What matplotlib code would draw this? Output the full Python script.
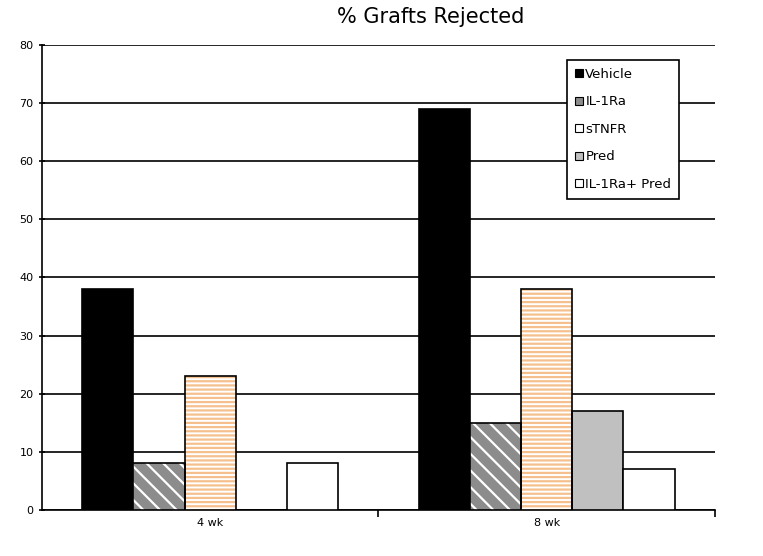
import numpy as np
import matplotlib.pyplot as plt
from matplotlib.patches import Patch

categories = ["4 wk", "8 wk"]
series = ["Vehicle", "IL-1Ra", "sTNFR", "Pred", "IL-1Ra+ Pred"]
vehicle = [38, 69]
il1ra = [8, 15]
stnfr = [23, 38]
pred = [0, 17]
il1ra_pred = [8, 7]
values = [vehicle, il1ra, stnfr, pred, il1ra_pred]

# look of each series: face, hatch, hatch colour
styles = [
    ("black", None, None),
    ("#8c8c8c", "\\\\", "white"),
    ("white", "----", "#f5c08e"),
    ("#c0c0c0", None, None),
    ("white", None, None),
]

plt.rcParams["font.family"] = ["DejaVu Sans"]
plt.rcParams["hatch.linewidth"] = 1.6

fig = plt.figure(figsize=(7.63, 5.56), dpi=100)
ax = fig.add_axes([0.055, 0.083, 0.882, 0.836])

x = np.arange(len(categories))
w = 0.152
for i, (vals, (fc, hatch, hc)) in enumerate(zip(values, styles)):
    pos = x + (i - 2) * w
    if hatch:
        ax.bar(pos, vals, w, color=fc, edgecolor=hc, hatch=hatch, linewidth=0, zorder=3)
        ax.bar(pos, vals, w, fill=False, edgecolor="black", linewidth=1.2, zorder=4)
    else:
        ax.bar(pos, vals, w, color=fc, edgecolor="black", linewidth=1.2, zorder=3)

ax.set_xlim(-0.5, 1.5)
ax.set_ylim(0, 80)
ax.set_yticks(np.arange(0, 81, 10))
ax.yaxis.grid(True, color="black", linewidth=1.2, zorder=0)
ax.set_axisbelow(True)

ax.set_xticks([0.5, 1.5], minor=False)
ax.set_xticklabels([])
ax.set_xticks(x, minor=True)
ax.set_xticklabels(categories, minor=True, fontsize=8)
ax.tick_params(axis="x", which="minor", length=0, pad=6)
ax.tick_params(axis="x", which="major", length=5, width=1.2, direction="out")
ax.tick_params(axis="y", length=5, width=1.2, direction="inout", labelsize=8)

for s in ["top", "right"]:
    ax.spines[s].set_visible(False)
for s in ["left", "bottom"]:
    ax.spines[s].set_linewidth(1.2)

ax.set_title("% Grafts Rejected", fontsize=15, pad=16, x=0.578)

handles = []
for name, (fc, hatch, hc) in zip(series, styles):
    handles.append(Patch(facecolor=fc, edgecolor="black", linewidth=0.8, label=name))
leg = ax.legend(handles=handles, loc="upper left", bbox_to_anchor=(0.78, 0.968),
                fontsize=9.5, frameon=True, fancybox=False, edgecolor="black",
                framealpha=1, handlelength=0.6, handleheight=0.6, handletextpad=0.2,
                labelspacing=1.1, borderpad=0.6, borderaxespad=0)
leg.get_frame().set_linewidth(1.2)
leg.set_zorder(5)

plt.savefig("out.png", dpi=100)
